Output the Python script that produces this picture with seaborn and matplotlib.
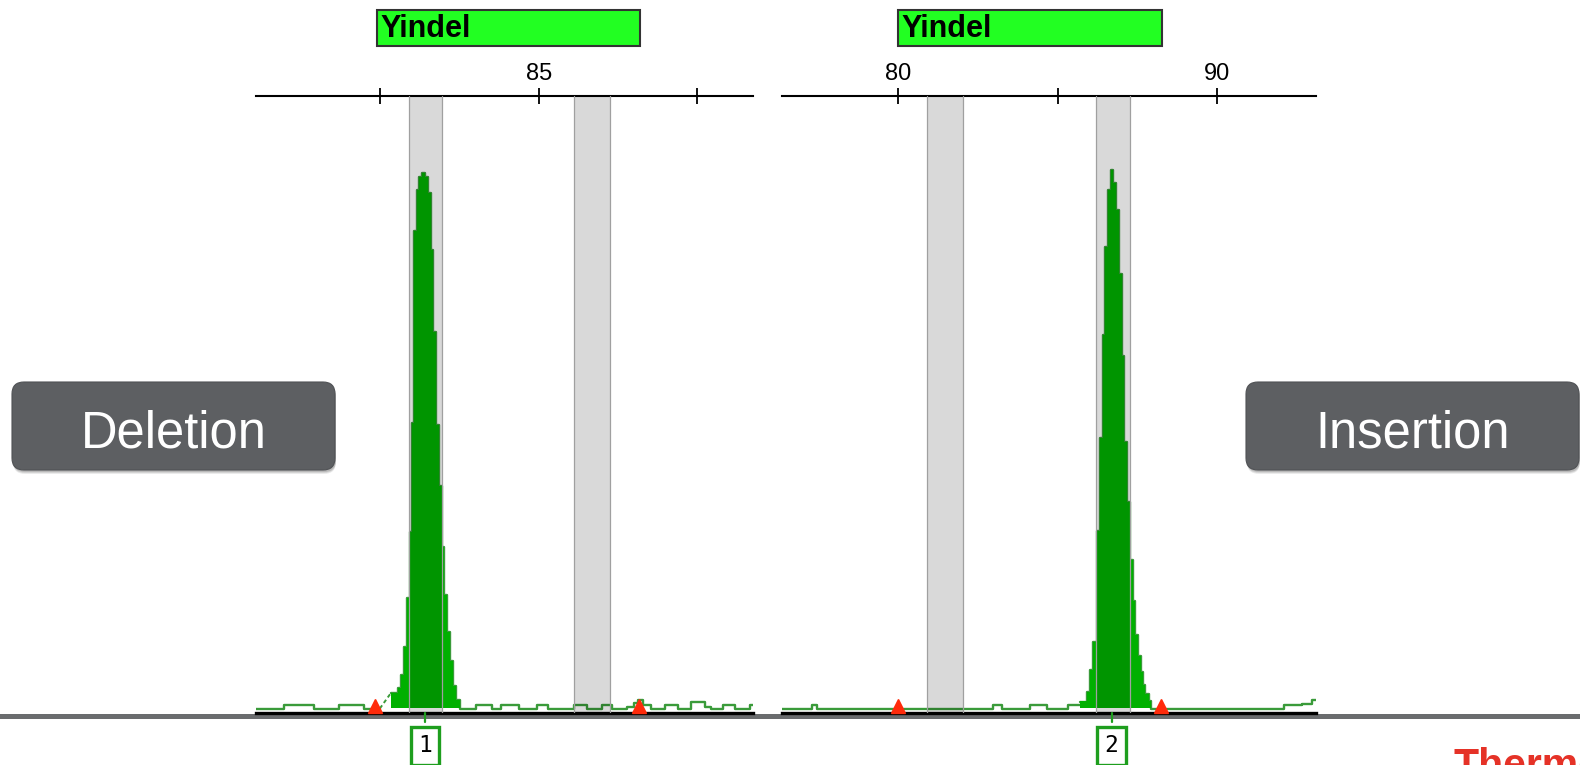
import numpy as np
import matplotlib
matplotlib.use("Agg")
import matplotlib.pyplot as plt
import seaborn as sns
from matplotlib.patches import Rectangle, FancyBboxPatch
from matplotlib.transforms import IdentityTransform

W, H, DPI = 1580, 765, 100

# ------------------------------------------------------------------ data
marker_name = "Yindel"
button_labels = ["Deletion", "Insertion"]
peak_labels = ["1", "2"]

left_xlim = (76.1, 91.75)
right_xlim = (76.36, 93.1)
tick_values = [80, 85, 90]
left_ticklabels = ["", "85", ""]
right_ticklabels = ["80", "", "90"]

left_marker_range = (79.9, 88.2)
right_marker_range = (80.0, 88.28)
left_bins = [(80.91, 81.95), (86.10, 87.26)]
right_bins = [(80.91, 82.04), (86.21, 87.27)]
left_range_marks = [79.86, 88.15]
right_range_marks = [80.0, 88.24]
left_peak_call = 81.42
right_peak_call = 86.69

# left trace (RFU), step starts
left_pre_x = [76.10, 76.98, 77.92, 78.71, 79.50]
left_pre_rfu = [40, 80, 40, 80, 40]
left_pre_end = 80.0
left_peak_x = [80.36, 80.56, 80.66, 80.76, 80.84, 80.94, 81.01, 81.09, 81.16,
               81.24, 81.34, 81.41, 81.51, 81.61, 81.68, 81.77, 81.85, 81.95,
               82.02, 82.12, 82.22, 82.29, 82.39]
left_peak_rfu = [200, 250, 380, 660, 1150, 1810, 2900, 4820, 5230,
                 5360, 5400, 5360, 5200, 4630, 3810, 2880, 2270, 1660,
                 1180, 810, 520, 270, 130]
left_post_x = [82.52, 83.02, 83.52, 83.80, 84.37, 84.94, 85.31, 86.10, 86.51,
               86.98, 87.30, 87.77, 88.00, 88.14, 88.30, 88.55, 88.99, 89.40,
               89.81, 90.25, 90.44, 90.82, 91.19, 91.67]
left_post_rfu = [40, 80, 40, 80, 40, 80, 40, 80, 40,
                 80, 40, 60, 100, 130, 80, 40, 80, 40,
                 110, 60, 40, 80, 40, 80]

# right trace (RFU), step starts
right_pre_x = [76.36, 77.29, 77.45, 82.98, 83.26, 84.14, 84.67, 85.33]
right_pre_rfu = [40, 80, 40, 80, 40, 80, 40, 80]
right_peak_x = [85.70, 85.91, 86.02, 86.12, 86.23, 86.34, 86.41, 86.50, 86.58,
                86.66, 86.73, 86.82, 86.92, 87.01, 87.08, 87.19, 87.28, 87.35,
                87.44, 87.51, 87.60, 87.67, 87.75, 87.85]
right_peak_rfu = [110, 210, 430, 710, 1820, 2750, 3780, 4660, 5230,
                  5430, 5300, 5030, 4390, 3570, 2710, 2110, 1530, 1120,
                  780, 570, 410, 280, 190, 120]
right_post_x = [87.94, 92.10, 92.66, 92.98]
right_post_rfu = [40, 80, 90, 130]

BASE_RFU = 40
YMAX = 6165

# ------------------------------------------------------------------ style
sns.set_theme(style="white")
plt.rcParams["font.family"] = ["Liberation Sans", "DejaVu Sans"]

TRACE = "#3a9b3a"
FILL = "#00b000"
RED = "#ff2a0a"
BOXGREEN = "#22ff22"
LABELGREEN = "#1e9e1e"

fig = plt.figure(figsize=(W / DPI, H / DPI), dpi=DPI)
fig.patch.set_facecolor("white")

# grey band across the figure under the baselines
fig.add_artist(Rectangle((0, H - 719), W, 5, transform=IdentityTransform(),
                         fc="#6a6c6e", ec="none", zorder=0))


def px_axes(x0, x1, ytop=96, ybot=712.5):
    return fig.add_axes([x0 / W, (H - ybot) / H, (x1 - x0) / W, (ybot - ytop) / H])


def draw_panel(ax, xlim, ticklabels, mrange, bins, marks, call, label,
               pre_x, pre_rfu, pre_end, peak_x, peak_rfu, post_x, post_rfu,
               dashed_link):
    ax.set_facecolor("none")
    ax.set_xlim(*xlim)
    ax.set_ylim(0, YMAX)
    for s in ("left", "right"):
        ax.spines[s].set_visible(False)
    ax.spines["top"].set_linewidth(1.5)
    ax.spines["top"].set_color("black")
    ax.spines["bottom"].set_linewidth(2.4)
    ax.spines["bottom"].set_color("black")
    ax.set_yticks([])
    ax.xaxis.tick_top()
    ax.set_xticks(tick_values)
    ax.set_xticklabels(ticklabels)
    ax.tick_params(axis="x", which="both", top=True, bottom=False,
                   direction="inout", length=11, width=1.3, pad=2.5,
                   labelsize=17, colors="black")
    for t in ax.get_xticklabels():
        t.set_family(["Liberation Sans", "DejaVu Sans"])

    # trace segments
    if pre_end is not None:
        xs = list(pre_x) + [pre_end]
        ys = list(pre_rfu) + [pre_rfu[-1]]
    else:
        xs = list(pre_x) + [peak_x[0]]
        ys = list(pre_rfu) + [pre_rfu[-1]]
    sns.lineplot(x=xs, y=ys, drawstyle="steps-post", estimator=None, sort=False,
                 color=TRACE, lw=1.7, ax=ax, zorder=3)
    main_x = list(peak_x) + list(post_x) + [xlim[1]]
    main_y = list(peak_rfu) + list(post_rfu) + [post_rfu[-1]]
    sns.lineplot(x=main_x, y=main_y, drawstyle="steps-post", estimator=None,
                 sort=False, color=TRACE, lw=1.7, ax=ax, zorder=3)
    if dashed_link:
        ax.plot([pre_end, peak_x[0]], [pre_rfu[-1], peak_rfu[0]], ls=(0, (2, 1.5)),
                color=TRACE, lw=1.4, zorder=3)
    fx = list(peak_x) + [post_x[0]]
    fy = list(peak_rfu) + [peak_rfu[-1]]
    ax.fill_between(fx, BASE_RFU, fy, step="post", color=FILL, lw=0, zorder=4)

    # bins (grey shading)
    for lo, hi in bins:
        ax.axvspan(lo, hi, ymin=0, ymax=1, fc="black", alpha=0.15, ec="none", zorder=5)
        ax.axvline(lo, color="#a0a0a0", lw=0.9, zorder=5)
        ax.axvline(hi, color="#a0a0a0", lw=0.9, zorder=5)

    # range marks
    ax.plot(marks, [65] * len(marks), ls="none", marker="^", ms=10,
            mfc=RED, mec=RED, zorder=7, clip_on=False)

    tr = ax.get_xaxis_transform()
    # marker box
    ax.add_patch(Rectangle((mrange[0], 1.0811), mrange[1] - mrange[0], 0.0584,
                           transform=tr, clip_on=False, fc=BOXGREEN, ec="#333333",
                           lw=1.5, zorder=6))
    ax.text(mrange[0] + 0.12, 1.0957, marker_name, transform=tr, ha="left",
            va="baseline", fontsize=22, fontweight="bold", color="black",
            clip_on=False, zorder=7)

    # peak call label
    ax.plot([call, call], [0, -0.016], transform=tr, color=LABELGREEN, lw=1.6,
            clip_on=False, zorder=6)
    ax.text(call, -0.054, label, transform=tr, ha="center", va="center",
            fontsize=16.5, family=["DejaVu Sans Mono"], color="black", clip_on=False,
            bbox=dict(boxstyle="square,pad=0.33", fc="white", ec=LABELGREEN, lw=2.4),
            zorder=6)


axL = px_axes(256, 753)
axR = px_axes(782, 1316)
draw_panel(axL, left_xlim, left_ticklabels, left_marker_range, left_bins,
           left_range_marks, left_peak_call, peak_labels[0],
           left_pre_x, left_pre_rfu, left_pre_end, left_peak_x, left_peak_rfu,
           left_post_x, left_post_rfu, True)
draw_panel(axR, right_xlim, right_ticklabels, right_marker_range, right_bins,
           right_range_marks, right_peak_call, peak_labels[1],
           right_pre_x, right_pre_rfu, None, right_peak_x, right_peak_rfu,
           right_post_x, right_post_rfu, False)


# ------------------------------------------------------------------ buttons
def button(x0, x1, text, cx):
    ytop, ybot = 382, 470
    w, h = x1 - x0, ybot - ytop
    for k, a in ((4, 0.08), (3, 0.10), (2, 0.12)):
        fig.add_artist(FancyBboxPatch((x0 + 1, H - ybot - k), w, h,
                                      boxstyle="round,pad=0,rounding_size=12",
                                      transform=IdentityTransform(), fc="#000000",
                                      ec="none", alpha=a, zorder=8))
    box = FancyBboxPatch((x0, H - ybot), w, h,
                         boxstyle="round,pad=0,rounding_size=12",
                         transform=IdentityTransform(), fc="#5d5f62",
                         ec="#505255", lw=0.8, zorder=9)
    fig.add_artist(box)
    fig.text(cx / W, (H - 447) / H, text, ha="center", va="baseline",
             fontsize=36.5, color="white", zorder=10,
             family=["Liberation Sans", "DejaVu Sans"])


button(12, 335, button_labels[0], 174)
button(1246, 1579, button_labels[1], 1413)

# logo text at bottom right (cut off by the frame, as in the source)
fig.text(1453 / W, (H - 777) / H, "Thermo", ha="left", va="baseline",
         fontsize=29.5, fontweight="bold", color="#e53227",
         family=["Liberation Sans", "DejaVu Sans"])

fig.savefig("out.png", dpi=DPI, facecolor="white")
